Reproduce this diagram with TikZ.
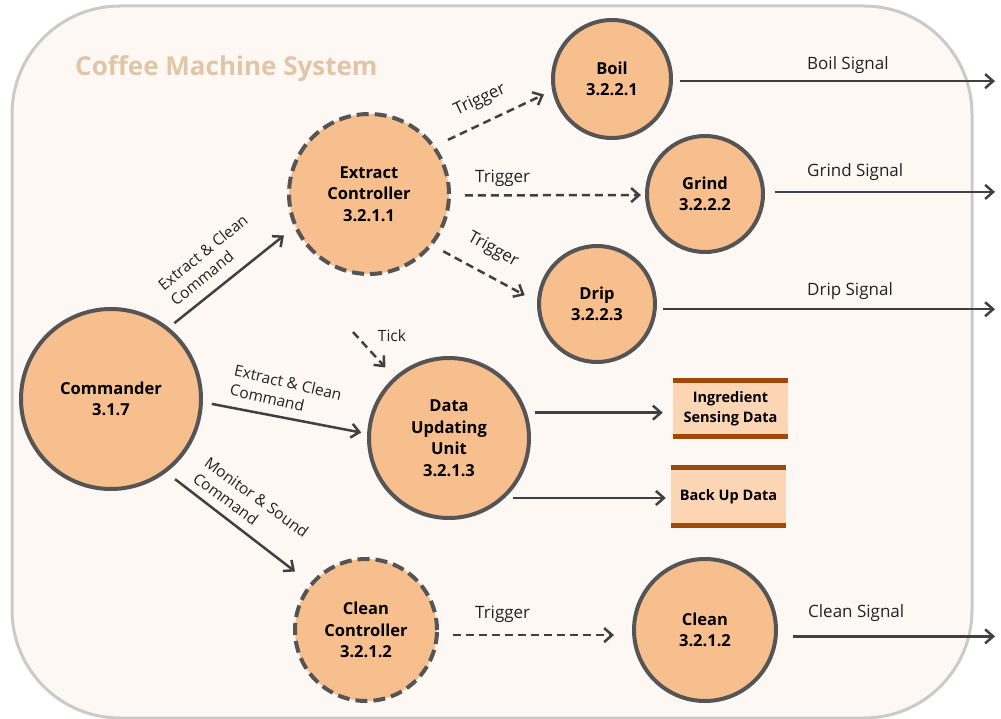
\documentclass[tikz,border=0pt]{standalone}
\usepackage{fontspec}
\setmainfont{Open Sans}
\usetikzlibrary{arrows.meta}
\definecolor{bgfill}{HTML}{FDF8F4}
\definecolor{bgline}{HTML}{CACACA}
\definecolor{titlecol}{HTML}{E1C5A6}
\definecolor{procfill}{HTML}{F8BF8E}
\definecolor{procline}{HTML}{555555}
\definecolor{storefill}{HTML}{FCD5B5}
\definecolor{storebar}{HTML}{9E4A0C}
\definecolor{arrowcol}{HTML}{404040}
\definecolor{lblcol}{HTML}{222222}
\begin{document}
\begin{tikzpicture}[x=1pt,y=-1pt,
  proc/.style={circle, draw=procline, line width=4pt, fill=procfill, inner sep=0pt, align=center, text=black, font=\bfseries\fontsize{16.5}{21.5}\selectfont},
  ctrl/.style={proc, dash pattern=on 12pt off 6pt},
  store/.style={rectangle, fill=storefill, inner sep=0pt, align=center, text=black, font=\bfseries\fontsize{14.5}{19.5}\selectfont},
  storebarfill/.style={fill=storebar},
  flow/.style={draw=arrowcol, line width=2.5pt, -{Straight Barb[length=8pt,width=14pt]}},
  trig/.style={flow, dash pattern=on 8pt off 5pt},
  lbl/.style={inner sep=0pt, text=lblcol, font=\fontsize{17}{20}\selectfont},
  elbl/.style={inner sep=0pt, text=lblcol, align=left, font=\fontsize{15.5}{19.5}\selectfont},
]
\useasboundingbox (0,0) rectangle (1001,719);
\fill[white] (0,0) rectangle (1001,719);
\draw[draw=bgline, fill=bgfill, line width=3pt, rounded corners=108pt] (12,6) rectangle (972,718);

\node[anchor=base west, inner sep=0pt, text=titlecol, font=\bfseries\fontsize{26}{30}\selectfont] (title) at (75,76) {Coffee Machine System};

% processes
\node[ctrl, minimum size=160pt] (ext) at (369,194) {Extract\\Controller\\3.2.1.1};
\node[proc, minimum size=118pt] (boil) at (612,79) {Boil\\3.2.2.1};
\node[proc, minimum size=116pt] (grind) at (705,194) {Grind\\3.2.2.2};
\node[proc, minimum size=116pt] (drip) at (597,304) {Drip\\3.2.2.3};
\node[proc, minimum size=180pt] (cmd) at (111,399) {Commander\\3.1.7};
\node[proc, minimum size=160pt] (data) at (449,438) {Data\\Updating\\Unit\\3.2.1.3};
\node[ctrl, minimum size=142pt] (cc) at (366,630) {Clean\\Controller\\3.2.1.2};
\node[proc, minimum size=142pt] (clean) at (705,630) {Clean\\3.2.1.2};

% data stores
\node[store, minimum width=115pt, minimum height=61pt] (ing) at (730.5,408.5) {Ingredient\\Sensing Data};
\node[store, minimum width=115pt, minimum height=63pt] (bak) at (728.5,496.5) {Back Up Data};
\fill[storebarfill] (ing.north west) rectangle ++(115,5.5);
\fill[storebarfill] (ing.south west) rectangle ++(115,-5.5);
\fill[storebarfill] (bak.north west) rectangle ++(115,5.5);
\fill[storebarfill] (bak.south west) rectangle ++(115,-5.5);

% free ends
\coordinate (sigx) at (995,0);
\coordinate (tickstart) at (353,332);

% command flows
\draw[flow, shorten <=7pt, shorten >=13pt] (cmd.51) -- (ext.204);
\draw[flow, shorten <=9pt, shorten >=6pt] (cmd.-2) -- (data.177);
\draw[flow, shorten <=11pt, shorten >=19pt] (cmd.-53) -- (cc.140);

% triggers
\draw[trig, shorten <=14pt, shorten >=9pt] (ext.36) -- (boil.191);
\draw[trig, shorten <=14pt, shorten >=4pt] (ext.-1) -- (grind.181);
\draw[trig, shorten <=12pt, shorten >=14pt] (ext.-39) -- (drip.178);
\draw[trig, shorten >=13pt] (tickstart) -- (data.132);
\draw[trig, shorten <=14pt, shorten >=18pt] (cc.-4) -- (cc.-4 -| clean.west);

% data flows
\draw[flow, shorten <=8pt, shorten >=10pt] (data.18) -- (data.18 -| ing.west);
\draw[flow, shorten <=8pt, shorten >=5pt] (data.-47) -- (data.-47 -| bak.west);

% output signals
\draw[flow, shorten <=7pt] (boil.-2) -- (boil.-2 -| sigx);
\draw[flow, shorten <=10pt] (grind.2) -- (grind.2 -| sigx);
\draw[flow, shorten <=6pt] (drip.-5) -- (drip.-5 -| sigx);
\draw[flow, shorten <=15pt] (clean.-5) -- (clean.-5 -| sigx);

% labels
\node[lbl, anchor=base west] (lboil) at (807,69.5) {Boil Signal};
\node[lbl, anchor=base west] (lgrind) at (807,177) {Grind Signal};
\node[lbl, anchor=base west] (ldrip) at (807,295) {Drip Signal};
\node[lbl, anchor=base west] (lclean) at (808,617) {Clean Signal};

\node[lbl, rotate=25] (t1) at (480,100) {Trigger};
\node[lbl, anchor=base west] (t2) at (475,183) {Trigger};
\node[lbl, rotate=-29] (t3) at (493,250) {Trigger};
\node[lbl, anchor=base west] (t4) at (475,618) {Trigger};
\node[elbl] (ltick) at (392,336) {Tick};

\node[elbl, rotate=39] (l1) at (209,260) {Extract \& Clean\\Command};
\node[elbl, rotate=-13] (l2) at (286,392) {Extract \& Clean\\Command};
\node[elbl, rotate=-36] (l3) at (251,505) {Monitor \& Sound\\Command};
\end{tikzpicture}
\end{document}
